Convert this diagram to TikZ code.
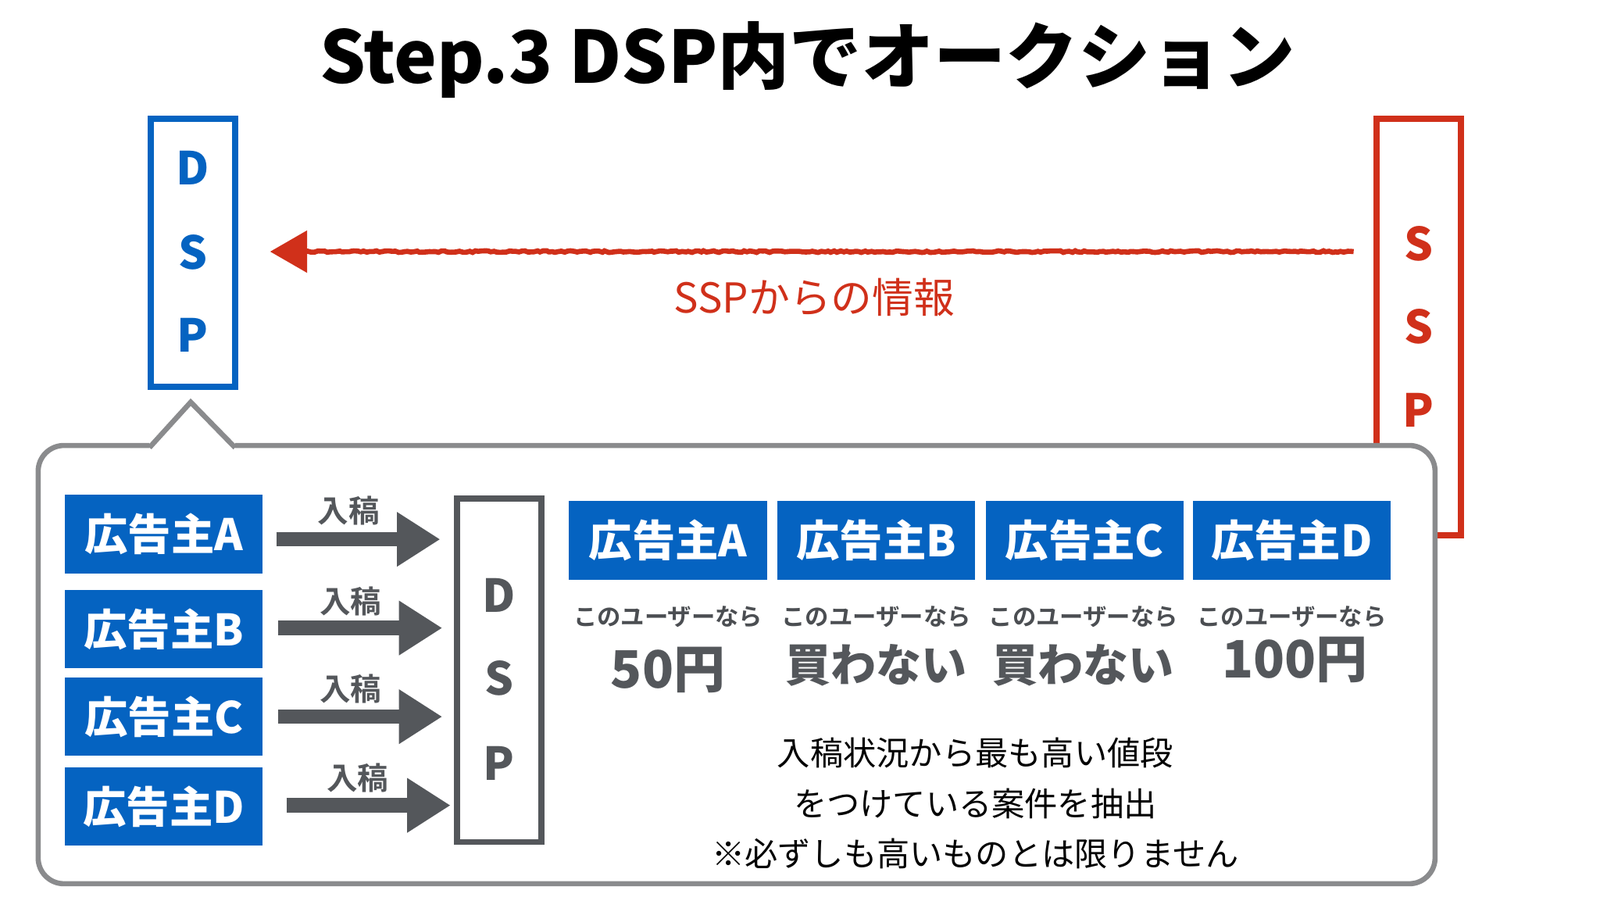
\documentclass[tikz,border=0pt]{standalone}
\usepackage{fontspec}
\setmainfont{Noto Sans CJK JP}
\newfontfamily\jpb{Noto Sans CJK JP Black}
\newfontfamily\jpm{Noto Sans CJK JP Bold}
\usetikzlibrary{decorations.pathmorphing,arrows.meta}
\definecolor{bblue}{HTML}{0563C1}
\definecolor{rred}{HTML}{D0301A}
\definecolor{ggray}{HTML}{54575B}
\definecolor{bgray}{HTML}{8A8B8D}
\begin{document}
\begin{tikzpicture}[x=1pt,y=-1pt,
  adv/.style={fill=bblue,minimum width=192pt,minimum height=76pt,inner sep=0pt,text=white,font=\jpb\fontsize{42}{44}\selectfont},
  lett/.style={font=\jpb\fontsize{44}{46}\selectfont},
  inko/.style={font=\jpm\fontsize{30}{32}\selectfont,text=ggray},
  garrow/.style={ggray,line width=14pt,-{Triangle[length=42pt,width=50pt]}},
  small/.style={font=\jpm\fontsize{23}{25}\selectfont,text=ggray!90!black},
  val/.style={font=\jpb\fontsize{50}{52}\selectfont,text=ggray},
  note/.style={font=\fontsize{32}{34}\selectfont}]
\useasboundingbox (0,0) rectangle (1552,873);
\fill[white] (0,0) rectangle (1552,873);
\node (title) at (783,58) {\jpb\fontsize{70}{72}\selectfont Step.3 DSP内でオークション};
% top DSP
\node[draw=bblue,line width=6pt,minimum width=82pt,minimum height=260pt,inner sep=0pt] (dsp1) at (187,245) {};
\node[lett,text=bblue] (d1) at (187,163) {D};
\node[lett,text=bblue] (s1) at (187,245) {S};
\node[lett,text=bblue] (p1) at (187,325) {P};
% SSP
\node[draw=rred,line width=6pt,minimum width=82pt,minimum height=404pt,inner sep=0pt] (ssp) at (1376,317) {};
\node[lett,text=rred] (s2) at (1376,236) {S};
\node[lett,text=rred] (s3) at (1376,317) {S};
\node[lett,text=rred] (p2) at (1376,398) {P};
\coordinate (as) at (1313,244);
\coordinate (ae) at (262,244);
\draw[rred,line width=5pt,decorate,decoration={random steps,segment length=3pt,amplitude=0.8pt}] (as) -- (295,244);
\draw[rred,line width=5pt,-{Triangle[length=36pt,width=40pt]}] (297,244) -- (ae);
\node[text=rred,font=\fontsize{40}{42}\selectfont] (info) at (790,288) {SSPからの情報};
% bubble
\draw[bgray,line width=5pt,fill=white,rounded corners=25pt]
  (145,432) -- (37,432) -- (37,857) -- (1392,857) -- (1392,432) -- (228,432);
\draw[bgray,line width=5pt,fill=white,line join=miter] (145,434) -- (185,390) -- (228,434);
\fill[white] (150,436) rectangle (223,440);
% left advertisers
\node[adv] (la) at (159,518) {広告主A};
\node[adv] (lb) at (159,610) {広告主B};
\node[adv] (lc) at (159,695) {広告主C};
\node[adv] (ld) at (159,782) {広告主D};
\node[draw=ggray,line width=6pt,minimum width=82pt,minimum height=333pt,inner sep=0pt] (dsp2) at (484,650) {};
\node[lett,text=ggray] (d3) at (484,577) {D};
\node[lett,text=ggray] (s4) at (484,658) {S};
\node[lett,text=ggray] (p3) at (484,740) {P};
\coordinate (ea) at (427,523);
\coordinate (eb) at (429,609);
\coordinate (ec) at (429,695);
\coordinate (ed) at (437,781);
\draw[garrow] (268,523) -- (ea);
\draw[garrow] (270,609) -- (eb);
\draw[garrow] (270,695) -- (ec);
\draw[garrow] (278,781) -- (ed);
\node[inko] (ia) at (338,495) {入稿};
\node[inko] (ib) at (340,583) {入稿};
\node[inko] (ic) at (340,668) {入稿};
\node[inko] (id) at (347,754) {入稿};
% right advertisers
\node[adv] (ra) at (648,524) {広告主A};
\node[adv] (rb) at (850,524) {広告主B};
\node[adv] (rc) at (1052,524) {広告主C};
\node[adv] (rd) at (1253,524) {広告主D};
\foreach \x/\n in {648/ua,850/ub,1051/uc,1253/ud} \node[small] (\n) at (\x,598) {このユーザーなら};
\node[val] (va) at (648,650) {50円};
\node[val,font=\jpb\fontsize{44}{46}\selectfont] (vb) at (850,645) {買わない};
\node[val,font=\jpb\fontsize{44}{46}\selectfont] (vc) at (1051,645) {買わない};
\node[val] (vd) at (1256,640) {100円};
\node[note] (n1) at (946,730) {入稿状況から最も高い値段};
\node[note] (n2) at (946,779) {をつけている案件を抽出};
\node[note] (n3) at (946,828) {※必ずしも高いものとは限りません};
\end{tikzpicture}
\end{document}
